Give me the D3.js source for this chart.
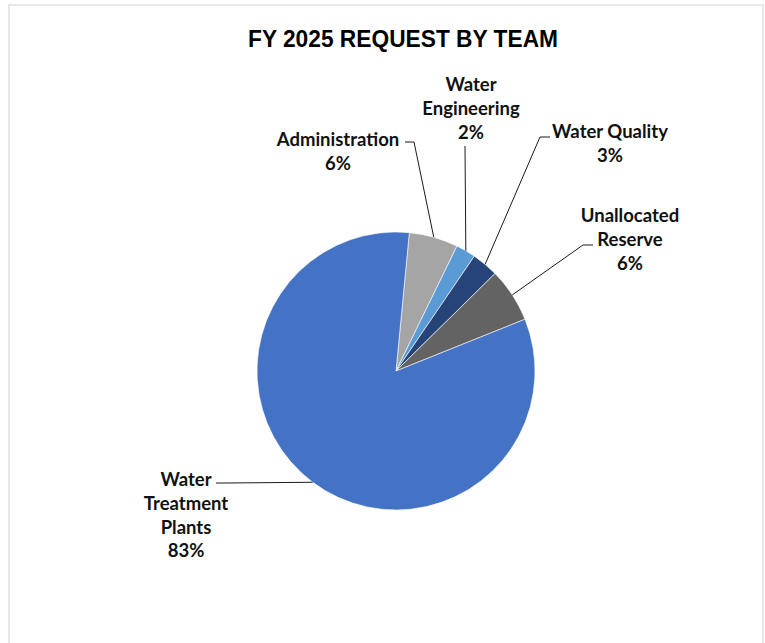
<!doctype html>
<html lang="en">
<head>
  <meta charset="utf-8">
  <title>FY 2025 Request by Team</title>
  <style>
    body { margin: 0; background: #fff; }
    svg { display: block; }
  </style>
</head>
<body>
<script src="https://cdn.jsdelivr.net/npm/d3@7"></script>
<script>
  // data (share of total, in percent)
  var teams = ["Administration", "Water Engineering", "Water Quality", "Unallocated Reserve", "Water Treatment Plants"];
  var shares = [5.7, 2.3, 3.1, 6.3, 82.6];
  var shownPct = ["6%", "2%", "3%", "6%", "83%"];
  var labelLines = [["Administration"], ["Water", "Engineering"], ["Water Quality"], ["Unallocated", "Reserve"], ["Water", "Treatment", "Plants"]];
  var colors = ["#a5a5a5", "#5b9bd5", "#264478", "#636363", "#4472c4"];

  var w = 765, h = 643;
  var cx = 396, cy = 371, r = 139;
  var startDeg = 5.5;

  // label placement: center x, first baseline, elbow of leader line
  var labelPos = [
    { x: 338, y: 146, ex: 414, ey: 142, hx: 405 },
    { x: 471, y: 91,  ex: 465, ey: 146, hx: 465 },
    { x: 610, y: 138, ex: 540, ey: 137, hx: 550 },
    { x: 630, y: 222, ex: 583, ey: 245, hx: 593 },
    { x: 186, y: 486, ex: 226, ey: 483, hx: 216 }
  ];
  var lineGap = 23.8;

  var svg = d3.select("body").append("svg")
    .attr("width", w)
    .attr("height", h);

  // chart frame
  svg.append("rect")
    .attr("x", 9).attr("y", 5)
    .attr("width", 754).attr("height", 660)
    .attr("fill", "#fff")
    .attr("stroke", "#d9d9d9")
    .attr("stroke-width", 1.2);

  svg.append("text")
    .attr("x", 403).attr("y", 46.5)
    .attr("text-anchor", "middle")
    .attr("font-family", "'Liberation Sans', Arial, sans-serif")
    .attr("font-weight", "bold")
    .attr("font-size", 24.5)
    .attr("textLength", 310)
    .attr("lengthAdjust", "spacingAndGlyphs")
    .attr("fill", "#000")
    .text("FY 2025 REQUEST BY TEAM");

  var data = teams.map(function(t, i) {
    return { team: t, share: shares[i], pct: shownPct[i], lines: labelLines[i], color: colors[i], pos: labelPos[i] };
  });

  var pie = d3.pie()
    .sort(null)
    .value(function(d) { return d.share; })
    .startAngle(startDeg * Math.PI / 180)
    .endAngle(startDeg * Math.PI / 180 + 2 * Math.PI);

  var arc = d3.arc().innerRadius(0).outerRadius(r);

  var g = svg.append("g").attr("transform", "translate(" + cx + "," + cy + ")");
  var arcs = pie(data);

  g.selectAll("path")
    .data(arcs)
    .enter()
    .append("path")
    .attr("d", arc)
    .attr("fill", function(d) { return d.data.color; })
    .attr("stroke", "#fff")
    .attr("stroke-width", 0.6);

  // leader lines
  svg.append("g").selectAll("polyline")
    .data(arcs)
    .enter()
    .append("polyline")
    .attr("points", function(d) {
      var a = (d.startAngle + d.endAngle) / 2;
      var px = cx + r * Math.sin(a), py = cy - r * Math.cos(a);
      var p = d.data.pos;
      return [[p.hx, p.ey], [p.ex, p.ey], [px, py]].join(" ");
    })
    .attr("fill", "none")
    .attr("stroke", "#1a1a1a")
    .attr("stroke-width", 1);

  // labels
  var labels = svg.append("g").selectAll("text")
    .data(arcs)
    .enter()
    .append("text")
    .attr("text-anchor", "middle")
    .attr("font-family", "Lato, 'Open Sans', sans-serif")
    .attr("font-weight", "bold")
    .attr("font-size", 18.5)
    .attr("fill", "#111");

  labels.selectAll("tspan")
    .data(function(d) {
      return d.data.lines.concat([d.data.pct]).map(function(s) { return { s: s, p: d.data.pos }; });
    })
    .enter()
    .append("tspan")
    .attr("x", function(d) { return d.p.x; })
    .attr("y", function(d, i) { return d.p.y + i * lineGap; })
    .text(function(d) { return d.s; });
</script>
</body>
</html>
